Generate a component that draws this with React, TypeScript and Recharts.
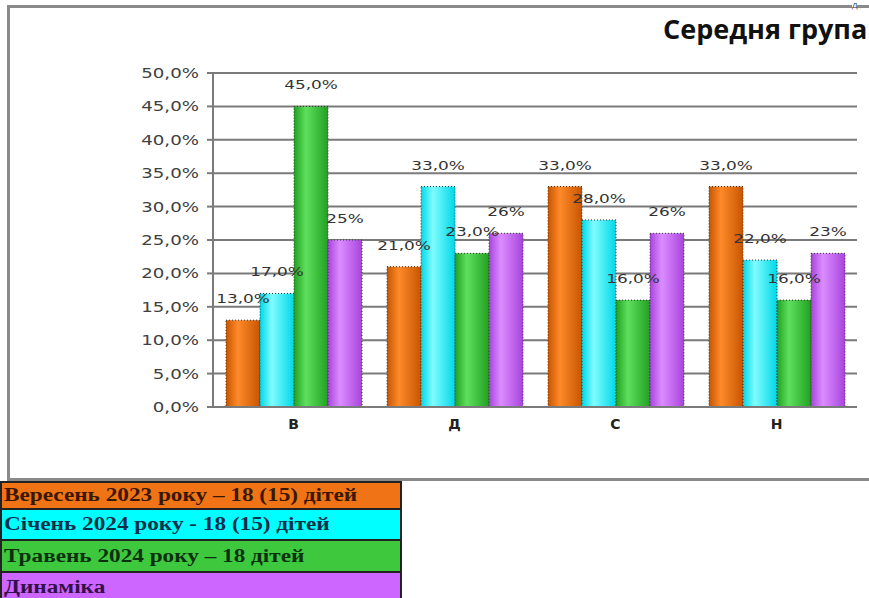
import { BarChart, Bar, XAxis, YAxis, CartesianGrid, LabelList } from 'recharts';

const groups = ['В', 'Д', 'С', 'Н'];
const sept2023 = [13, 21, 33, 33];
const jan2024 = [17, 33, 28, 22];
const may2024 = [45, 23, 16, 16];
const dynamics = [25, 26, 26, 23];
const yTicks = [0, 5, 10, 15, 20, 25, 30, 35, 40, 45, 50];

const legendRows = [
  { text: 'Вересень 2023 року – 18 (15) дітей', bg: '#f07415', color: '#3a1800', h: 27 },
  { text: 'Січень 2024 року - 18 (15) дітей', bg: '#00ffff', color: '#08304a', h: 31 },
  { text: 'Травень 2024 року – 18 дітей', bg: '#3ec83e', color: '#0c300c', h: 32 },
  { text: 'Динаміка', bg: '#cc66ff', color: '#34104a', h: 30 },
];

const data = groups.map((g, i) => ({
  name: g,
  sept: sept2023[i],
  jan: jan2024[i],
  may: may2024[i],
  dyn: dynamics[i],
}));

const series = [
  { key: 'sept', id: 'gOr', edge: '#c85500', mid: '#ff8a2a', fmt: (v: number) => `${v},0%` },
  { key: 'jan', id: 'gCy', edge: '#00d8e8', mid: '#7ffcff', fmt: (v: number) => `${v},0%` },
  { key: 'may', id: 'gGr', edge: '#22a022', mid: '#5ee05e', fmt: (v: number) => `${v},0%` },
  { key: 'dyn', id: 'gPu', edge: '#a844dd', mid: '#dc8cff', fmt: (v: number) => `${v}%` },
];

// the source picture is stretched sideways, so the small texts get scaleX
const YTick = (props: any) => {
  const { x, y, payload } = props;
  return (
    <text transform={`translate(${x},${y}) scale(1.3,1)`} textAnchor="end" dy="0.36em"
      fontFamily="DejaVu Sans" fontSize={14} fill="#404040">
      {`${payload.value},0%`}
    </text>
  );
};

const makeLabel = (fmt: (v: number) => string) => (props: any) => {
  const { x, y, width, value } = props;
  return (
    <text transform={`translate(${x + width / 2},${y - 17}) scale(1.3,1)`} textAnchor="middle"
      fontFamily="DejaVu Sans" fontSize={13} fill="#333">
      {fmt(value)}
    </text>
  );
};

export default function App() {
  return (
    <div style={{ position: 'absolute', left: 0, top: 0, width: 869, height: 598, overflow: 'hidden', background: '#fff' }}>
      <div style={{ position: 'absolute', left: 7, top: 5, width: 900, height: 470, border: '3px solid #8a8a8a' }} />
      <div style={{ position: 'absolute', left: 852, top: 1, fontFamily: 'Open Sans', fontSize: 8, lineHeight: '8px', color: '#333', background: '#fff' }}>Д</div>
      <div style={{ position: 'absolute', left: 663, top: 15, fontFamily: 'Open Sans', fontWeight: 700, fontSize: 27, lineHeight: '27px', color: '#111', whiteSpace: 'nowrap' }}>
        Середня група
      </div>
      <div style={{ position: 'absolute', left: 0, top: 0 }}>
        <BarChart width={869} height={480} data={data} margin={{ top: 73, right: 12, left: 0, bottom: 0 }} barCategoryGap={13} barGap={0}>
          <defs>
            {series.map((s) => (
              <linearGradient key={s.id} id={s.id} x1="0" y1="0" x2="1" y2="0">
                <stop offset="0%" stopColor={s.edge} />
                <stop offset="35%" stopColor={s.mid} />
                <stop offset="100%" stopColor={s.edge} />
              </linearGradient>
            ))}
          </defs>
          <CartesianGrid vertical={false} stroke="#7a7a7a" strokeWidth={2} />
          <XAxis dataKey="name" height={73} stroke="#7a7a7a" strokeWidth={2} tickLine={false}
            tick={{ fontFamily: 'DejaVu Sans', fontSize: 14, fontWeight: 700, fill: '#222' }} tickMargin={6} />
          <YAxis width={213} domain={[0, 50]} ticks={yTicks} stroke="#7a7a7a" strokeWidth={2}
            tickSize={6} tickMargin={8} tick={<YTick />} />
          {series.map((s) => (
            <Bar key={s.key} dataKey={s.key} fill={`url(#${s.id})`} stroke="#333" strokeWidth={1} strokeDasharray="1 2" isAnimationActive={false}>
              <LabelList dataKey={s.key} content={makeLabel(s.fmt)} />
            </Bar>
          ))}
        </BarChart>
      </div>
      <div style={{ position: 'absolute', left: 0, top: 481, width: 402 }}>
        {legendRows.map((r) => (
          <div key={r.text} style={{ height: r.h - 2, background: r.bg, borderTop: '2px solid #222', borderLeft: '2px solid #222', borderRight: '2px solid #222',
            fontFamily: 'Liberation Serif', fontWeight: 700, fontSize: 18, color: r.color, lineHeight: `${r.h - 2}px`, paddingLeft: 2, whiteSpace: 'nowrap' }}>
            <span style={{ display: 'inline-block', transform: 'scaleX(1.29)', transformOrigin: 'left center' }}>{r.text}</span>
          </div>
        ))}
      </div>
    </div>
  );
}
